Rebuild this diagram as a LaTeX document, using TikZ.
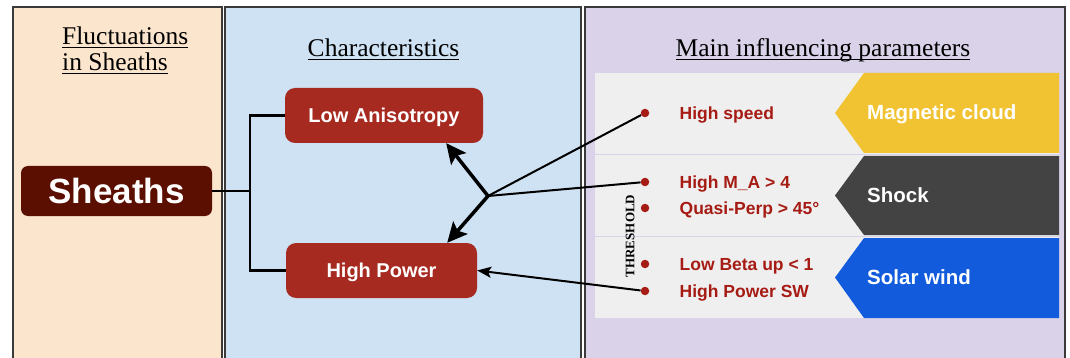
\documentclass[tikz,border=0pt]{standalone}
\usepackage{fontspec}
\setmainfont{Liberation Serif}
\setsansfont{Liberation Sans}
\usepackage{tikz}
\usetikzlibrary{arrows.meta}
\usetikzlibrary{positioning}

\definecolor{peach}{HTML}{FCE5CD}
\definecolor{paleblue}{HTML}{CFE2F3}
\definecolor{lavender}{HTML}{D9D2E9}
\definecolor{sheathred}{HTML}{5B0F00}
\definecolor{boxred}{HTML}{A62A20}
\definecolor{textred}{HTML}{A61C14}
\definecolor{paramgray}{HTML}{EFEFEF}
\definecolor{cloudyellow}{HTML}{F1C232}
\definecolor{shockgray}{HTML}{434343}
\definecolor{windblue}{HTML}{115BDC}
\definecolor{framegray}{HTML}{3A3A3A}

\newsavebox{\titlebox}
\newcommand{\titleline}[1]{\sbox{\titlebox}{#1}\rlap{\rule[-2.5pt]{\wd\titlebox}{0.9pt}}\usebox{\titlebox}}

\begin{document}
\begin{tikzpicture}[x=1pt,y=-1pt,
    panel/.style={draw=framegray,line width=1.3pt},
    title/.style={inner sep=0pt,font=\fontsize{25.5}{30}\selectfont},
    sheathbox/.style={fill=sheathred,rounded corners=7pt,minimum width=191pt,minimum height=50pt,text=white,text height=25pt,text depth=0pt,font=\sffamily\bfseries\fontsize{35}{40}\selectfont},
    charbox/.style={fill=boxred,rounded corners=10pt,minimum height=55pt,text=white,text height=14.3pt,text depth=0pt,font=\sffamily\bfseries\fontsize{20}{24}\selectfont},
    dot/.style={circle,fill=textred,inner sep=0pt,minimum size=8.5pt},
    param/.style={text=textred,inner sep=0pt,text height=12.5pt,text depth=0pt,font=\sffamily\bfseries\fontsize{17.5}{21}\selectfont},
    source/.style={text=white,inner sep=0pt,anchor=west,text height=14.7pt,text depth=0pt,font=\sffamily\bfseries\fontsize{20.5}{24}\selectfont},
    bigtip/.style={-{Stealth[length=20pt,width=19pt,inset=4pt]}},
    smalltip/.style={-{Stealth[length=14pt,width=11pt,inset=3pt]}}]

  \useasboundingbox (0,0) rectangle (1070,358);

  \fill [peach] (13,7) rectangle (222,358);
  \draw [panel] (13,358) -- (13,7) -- (222,7) -- (222,358);
  \fill [paleblue] (225,7) rectangle (581,358);
  \draw [panel] (225,358) -- (225,7) -- (581,7) -- (581,358);
  \fill [lavender] (585,7) rectangle (1065,358);
  \draw [panel] (585,358) -- (585,7) -- (1065,7) -- (1065,358);

  \node [title,anchor=base west] (fluct_1) at (62,45) {\titleline{Fluctuations}};
  \node [title,anchor=base west] (fluct_2) at (62,71) {\titleline{in Sheaths}};
  \node [title,anchor=base] (charac) at (383.5,57) {\titleline{Characteristics}};
  \node [title,anchor=base] (params) at (823,57) {\titleline{Main influencing parameters}};

  \node [sheathbox] (sheaths) at (116.5,191) {Sheaths};
  \node [charbox,minimum width=198pt] (lowani) at (384,115.5) {Low Anisotropy};
  \node [charbox,minimum width=191pt] (highpow) at (381.5,270.5) {High Power};

  \coordinate (fork) at (250,191);
  \draw [line width=2.3pt] (sheaths.east) -- (fork) |- (lowani.west) (fork) |- (highpow.west);

  \fill [paramgray] (595,73) rectangle (1059,318);
  \draw [lavender,line width=1pt] (595,154.5) -- (1059,154.5) (595,236.5) -- (1059,236.5);

  \fill [cloudyellow] (835,113) -- (864,73) -- (1059,73) -- (1059,153) -- (864,153) -- cycle;
  \fill [shockgray] (835,195.5) -- (864,156) -- (1059,156) -- (1059,235) -- (864,235) -- cycle;
  \fill [windblue] (835,277.5) -- (864,238) -- (1059,238) -- (1059,318) -- (864,318) -- cycle;

  \node [source] (mcloud) at (867,112) {Magnetic cloud};
  \node [source] (shock) at (867,195) {Shock};
  \node [source] (swind) at (867,277) {Solar wind};

  \node [dot] (dot_1) at (645,113) {};
  \node [dot] (dot_2) at (645,182) {};
  \node [dot] (dot_3) at (645,208) {};
  \node [dot] (dot_4) at (645,264) {};
  \node [dot] (dot_5) at (645,291) {};

  \node [param,right=30pt of dot_1] (par_1) {High speed};
  \node [param,right=30pt of dot_2] (par_2) {High M\_A > 4};
  \node [param,right=30pt of dot_3] (par_3) {Quasi-Perp > 45°};
  \node [param,right=30pt of dot_4] (par_4) {Low Beta up < 1};
  \node [param,right=30pt of dot_5] (par_5) {High Power SW};

  \node [rotate=90,inner sep=0pt,font=\bfseries\fontsize{13}{15}\selectfont] (thresh) at (630,236) {THRESHOLD};

  \coordinate (hub) at (488,196);
  \path [draw,line width=2pt]
    (hub) edge (dot_1)
    (hub) edge (dot_2);

  \path [draw,line width=3.5pt]
    (hub) edge [bigtip] ([xshift=-37pt]lowani.south east)
    (hub) edge [bigtip] ([xshift=-30pt]highpow.north east);

  \path [draw,line width=2pt]
    (dot_5) edge [smalltip] (highpow.east);

\end{tikzpicture}
\end{document}
